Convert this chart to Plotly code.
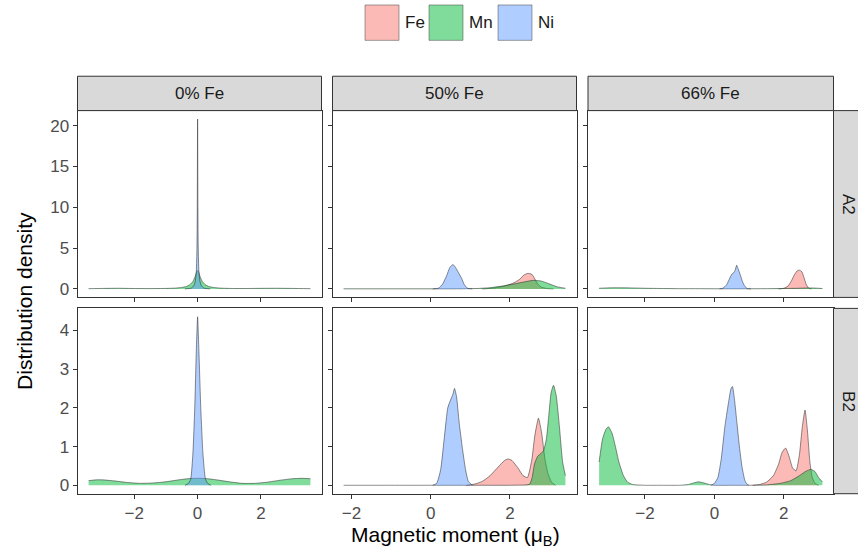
import plotly.graph_objects as go

# ---------------- data ----------------
facet_cols = ["0% Fe", "50% Fe", "66% Fe"]
facet_rows = ["A2", "B2"]
elements = ["Fe", "Mn", "Ni"]

x_ticks = [-2, 0, 2]
y_ticks_a2 = [0, 5, 10, 15, 20]
y_ticks_b2 = [0, 1, 2, 3, 4]

# A2, 0% Fe
x_mn_a2_0 = [-3.44, -3.0, -2.5, -2.0, -1.5, -1.0, -0.7, -0.5, -0.35, -0.25, -0.15, -0.08, -0.03, 0.0,
             0.03, 0.08, 0.15, 0.25, 0.35, 0.5, 0.7, 1.0, 1.5, 2.0, 2.5, 3.0, 3.56]
y_mn_a2_0 = [0.03, 0.06, 0.08, 0.05, 0.04, 0.06, 0.1, 0.18, 0.3, 0.5, 0.9, 1.5, 2.1, 2.3,
             2.1, 1.5, 0.9, 0.5, 0.3, 0.18, 0.1, 0.06, 0.05, 0.07, 0.08, 0.06, 0.03]
x_ni_a2_0 = [-0.4, -0.2, -0.12, -0.07, -0.04, -0.02, -0.01, 0.0, 0.01, 0.02, 0.04, 0.07, 0.12, 0.2, 0.4]
y_ni_a2_0 = [0.0, 0.1, 0.4, 1.0, 2.2, 5.0, 10.0, 20.8, 10.0, 5.0, 2.2, 1.0, 0.4, 0.1, 0.0]

# B2, 0% Fe
x_mn_b2_0 = [-3.44, -3.2, -3.0, -2.6, -2.2, -1.8, -1.4, -1.0, -0.6, -0.3, 0.0, 0.3, 0.6, 1.0, 1.4,
             1.8, 2.2, 2.6, 3.0, 3.3, 3.56]
y_mn_b2_0 = [0.12, 0.14, 0.14, 0.11, 0.07, 0.05, 0.06, 0.09, 0.14, 0.17, 0.18, 0.17, 0.14, 0.09, 0.05,
             0.05, 0.08, 0.13, 0.17, 0.18, 0.17]
x_ni_b2_0 = [-0.4, -0.3, -0.22, -0.15, -0.09, -0.04, 0.0, 0.04, 0.1, 0.17, 0.25, 0.33, 0.42]
y_ni_b2_0 = [0.0, 0.04, 0.15, 0.8, 2.0, 3.5, 4.35, 3.5, 2.0, 0.8, 0.15, 0.04, 0.0]

# A2, 50% Fe
x_fe_a2_50 = [1.3, 1.6, 1.9, 2.1, 2.25, 2.35, 2.45, 2.55, 2.62, 2.7, 2.8, 2.95, 3.1]
y_fe_a2_50 = [0.0, 0.1, 0.4, 0.75, 1.2, 1.7, 1.9, 1.8, 1.3, 0.6, 0.2, 0.04, 0.0]
x_mn_a2_50 = [-2.2, -1.0, 0.0, 0.8, 1.2, 1.5, 1.8, 2.1, 2.4, 2.6, 2.8, 3.0, 3.2, 3.4]
y_mn_a2_50 = [0.01, 0.01, 0.01, 0.02, 0.06, 0.15, 0.35, 0.6, 0.9, 1.05, 0.95, 0.6, 0.25, 0.08]
x_ni_a2_50 = [0.05, 0.2, 0.3, 0.4, 0.48, 0.56, 0.63, 0.7, 0.78, 0.85, 0.93, 1.05]
y_ni_a2_50 = [0.0, 0.1, 0.6, 1.6, 2.6, 3.0, 2.6, 2.0, 1.3, 0.5, 0.08, 0.0]

# B2, 50% Fe
x_fe_b2_50 = [0.9, 1.1, 1.3, 1.5, 1.7, 1.85, 1.95, 2.05, 2.2, 2.33, 2.44, 2.55, 2.63, 2.72, 2.8,
              2.88, 2.96, 3.05, 3.15]
y_fe_b2_50 = [0.0, 0.03, 0.1, 0.25, 0.47, 0.63, 0.68, 0.64, 0.45, 0.25, 0.2, 0.65, 1.3, 1.73, 1.35,
              0.7, 0.3, 0.08, 0.0]
x_mn_b2_50 = [-2.2, -1.0, 0.0, 1.0, 2.0, 2.4, 2.5, 2.56, 2.62, 2.7, 2.78, 2.85, 2.92, 2.98, 3.04,
              3.1, 3.17, 3.25, 3.33, 3.4]
y_mn_b2_50 = [0.0, 0.0, 0.0, 0.0, 0.0, 0.01, 0.03, 0.2, 0.55, 0.75, 0.82, 0.9, 1.2, 1.8, 2.4,
              2.58, 2.3, 1.5, 0.6, 0.25]
x_ni_b2_50 = [0.05, 0.15, 0.25, 0.35, 0.43, 0.5, 0.56, 0.6, 0.65, 0.72, 0.8, 0.88, 0.95, 1.05]
y_ni_b2_50 = [0.0, 0.05, 0.4, 1.3, 2.0, 2.2, 2.35, 2.5, 2.3, 1.6, 0.95, 0.4, 0.1, 0.0]

# A2, 66% Fe
x_fe_a2_66 = [1.85, 2.0, 2.12, 2.22, 2.3, 2.38, 2.45, 2.52, 2.58, 2.65, 2.72, 2.8]
y_fe_a2_66 = [0.0, 0.08, 0.35, 1.0, 1.7, 2.2, 2.3, 2.1, 1.4, 0.5, 0.08, 0.0]
x_mn_a2_66 = [-3.32, -3.1, -2.8, -2.4, -2.0, -1.5, -1.0, -0.5, 0.0, 0.5, 1.0, 1.5, 2.0, 2.4, 2.7,
              2.9, 3.11]
y_mn_a2_66 = [0.08, 0.12, 0.14, 0.12, 0.08, 0.05, 0.03, 0.03, 0.02, 0.02, 0.02, 0.03, 0.05, 0.08, 0.12,
              0.1, 0.05]
x_ni_a2_66 = [0.15, 0.25, 0.35, 0.43, 0.5, 0.56, 0.6, 0.64, 0.68, 0.74, 0.8, 0.87, 0.95, 1.05]
y_ni_a2_66 = [0.0, 0.1, 0.5, 1.2, 1.8, 2.0, 2.3, 2.9, 2.5, 1.8, 1.0, 0.35, 0.05, 0.0]

# B2, 66% Fe
x_fe_b2_66 = [1.1, 1.3, 1.5, 1.7, 1.85, 1.95, 2.05, 2.15, 2.25, 2.35, 2.45, 2.53, 2.61, 2.68, 2.75,
              2.82, 2.9, 3.0]
y_fe_b2_66 = [0.0, 0.02, 0.08, 0.25, 0.55, 0.85, 0.96, 0.75, 0.45, 0.37, 0.8, 1.5, 1.94, 1.4, 0.6,
              0.2, 0.05, 0.0]
x_mn_b2_66 = [-3.32, -3.22, -3.12, -3.05, -2.95, -2.85, -2.75, -2.62, -2.5, -2.35, -2.0, -1.5, -1.0,
              -0.75, -0.6, -0.46, -0.3, -0.15, 0.0, 0.5, 1.0, 1.5, 1.9, 2.2, 2.45, 2.65, 2.78, 2.9,
              3.0, 3.11]
y_mn_b2_66 = [0.6, 1.2, 1.45, 1.51, 1.35, 1.0, 0.6, 0.25, 0.08, 0.02, 0.0, 0.0, 0.0,
              0.02, 0.06, 0.09, 0.06, 0.02, 0.0, 0.0, 0.0, 0.01, 0.05, 0.12, 0.25, 0.37, 0.41, 0.35,
              0.2, 0.09]
x_ni_b2_66 = [-0.1, 0.0, 0.1, 0.2, 0.3, 0.4, 0.48, 0.52, 0.58, 0.65, 0.72, 0.8, 0.88, 0.95, 1.0]
y_ni_b2_66 = [0.0, 0.05, 0.2, 0.7, 1.5, 2.1, 2.5, 2.55, 2.2, 1.6, 1.0, 0.45, 0.12, 0.02, 0.0]

# panel -> list of (element, x, y)
panels = {
    (0, 0): [("Mn", x_mn_a2_0, y_mn_a2_0), ("Ni", x_ni_a2_0, y_ni_a2_0)],
    (0, 1): [("Fe", x_fe_a2_50, y_fe_a2_50), ("Mn", x_mn_a2_50, y_mn_a2_50), ("Ni", x_ni_a2_50, y_ni_a2_50)],
    (0, 2): [("Fe", x_fe_a2_66, y_fe_a2_66), ("Mn", x_mn_a2_66, y_mn_a2_66), ("Ni", x_ni_a2_66, y_ni_a2_66)],
    (1, 0): [("Mn", x_mn_b2_0, y_mn_b2_0), ("Ni", x_ni_b2_0, y_ni_b2_0)],
    (1, 1): [("Fe", x_fe_b2_50, y_fe_b2_50), ("Mn", x_mn_b2_50, y_mn_b2_50), ("Ni", x_ni_b2_50, y_ni_b2_50)],
    (1, 2): [("Fe", x_fe_b2_66, y_fe_b2_66), ("Mn", x_mn_b2_66, y_mn_b2_66), ("Ni", x_ni_b2_66, y_ni_b2_66)],
}

# ---------------- styling / layout ----------------
W, H = 858, 553
FONT = "Liberation Sans, Arial, sans-serif"
fills = {"Fe": "rgba(248,118,109,0.5)", "Mn": "rgba(0,186,56,0.5)", "Ni": "rgba(97,156,255,0.5)"}
BORDER = "#333333"


def fx(p):
    return p / W


def fy(p):
    return 1 - p / H


col_px = [(77.5, 321.5), (332.5, 576.5), (588.0, 833.5)]
row_px = [(111.0, 298.5), (309.5, 495.5)]
strip_top = 76.5
xranges = [[-3.79, 3.91], [-2.48, 3.68], [-3.64, 3.43]]
yranges = [[-1.04, 21.84], [-0.2175, 4.5675]]
yticks = [y_ticks_a2, y_ticks_b2]

fig = go.Figure()
layout = dict(
    width=W, height=H, autosize=False,
    margin=dict(l=0, r=0, t=0, b=0),
    paper_bgcolor="white", plot_bgcolor="white",
    showlegend=False, hovermode=False,
    font=dict(family=FONT, size=17, color="#1A1A1A"),
)

for r in range(2):
    for c in range(3):
        i = r * 3 + c + 1
        xn = "xaxis" if i == 1 else f"xaxis{i}"
        yn = "yaxis" if i == 1 else f"yaxis{i}"
        xa = "x" if i == 1 else f"x{i}"
        ya = "y" if i == 1 else f"y{i}"
        layout[xn] = dict(
            domain=[fx(col_px[c][0]), fx(col_px[c][1])], anchor=ya,
            range=xranges[c], tickvals=x_ticks, showgrid=False, zeroline=False,
            showline=True, mirror=True, linecolor=BORDER, linewidth=1,
            ticks="outside", ticklen=4, tickcolor=BORDER, tickwidth=1,
            showticklabels=(r == 1),
            tickfont=dict(family=FONT, size=17, color="#4D4D4D"),
        )
        layout[yn] = dict(
            domain=[fy(row_px[r][1]), fy(row_px[r][0])], anchor=xa,
            range=yranges[r], tickvals=yticks[r], showgrid=False, zeroline=False,
            showline=True, mirror=True, linecolor=BORDER, linewidth=1,
            ticks="outside", ticklen=4, tickcolor=BORDER, tickwidth=1,
            showticklabels=(c == 0),
            tickfont=dict(family=FONT, size=17, color="#4D4D4D"),
        )
        for el, xs, ys in panels[(r, c)]:
            fig.add_trace(go.Scatter(
                x=xs, y=ys, xaxis=xa, yaxis=ya, mode="lines", fill="tozeroy",
                fillcolor=fills[el], name=el,
                line=dict(color="rgba(40,40,40,0.75)", width=0.7, shape="spline", smoothing=0.5),
            ))

shapes = []
annotations = []
# top strips
for c in range(3):
    shapes.append(dict(type="rect", xref="paper", yref="paper",
                       x0=fx(col_px[c][0]), x1=fx(col_px[c][1]), y0=fy(row_px[0][0]), y1=fy(strip_top),
                       fillcolor="#D9D9D9", line=dict(color=BORDER, width=1)))
    annotations.append(dict(xref="paper", yref="paper", x=fx((col_px[c][0] + col_px[c][1]) / 2),
                            y=fy((strip_top + row_px[0][0]) / 2), text=facet_cols[c], showarrow=False,
                            font=dict(family=FONT, size=17, color="#1A1A1A"),
                            xanchor="center", yanchor="middle"))
# right strips
for r in range(2):
    shapes.append(dict(type="rect", xref="paper", yref="paper",
                       x0=fx(833.5), x1=fx(869), y0=fy(row_px[r][1]), y1=fy(row_px[r][0]),
                       fillcolor="#D9D9D9", line=dict(color=BORDER, width=1)))
    annotations.append(dict(xref="paper", yref="paper", x=fx(849),
                            y=fy((row_px[r][0] + row_px[r][1]) / 2),
                            text=facet_rows[r], showarrow=False, textangle=90,
                            font=dict(family=FONT, size=17, color="#1A1A1A"),
                            xanchor="center", yanchor="middle"))

# axis titles
annotations.append(dict(xref="paper", yref="paper", x=fx(455.5), y=fy(537.5),
                        text="Magnetic moment (μ<sub>B</sub>)", showarrow=False,
                        font=dict(family=FONT, size=21, color="black"),
                        xanchor="center", yanchor="middle"))
annotations.append(dict(xref="paper", yref="paper", x=fx(25), y=fy(302),
                        text="Distribution density", showarrow=False, textangle=-90,
                        font=dict(family=FONT, size=21, color="black"),
                        xanchor="center", yanchor="middle"))

# legend (manual)
legend_boxes = [(365, 399), (429, 463), (498, 532)]
for el, (b0, b1) in zip(elements, legend_boxes):
    shapes.append(dict(type="rect", xref="paper", yref="paper",
                       x0=fx(b0), x1=fx(b1), y0=fy(40.5), y1=fy(5),
                       fillcolor=fills[el], line=dict(color="rgba(60,60,60,0.6)", width=0.8)))
    annotations.append(dict(xref="paper", yref="paper", x=fx(b1 + 4), y=fy(22.5),
                            text=el, showarrow=False,
                            font=dict(family=FONT, size=17, color="#1A1A1A"),
                            xanchor="left", yanchor="middle"))

layout["shapes"] = shapes
layout["annotations"] = annotations
fig.update_layout(**layout)

fig.write_html(
    "out.html",
    config={"displayModeBar": False},
    post_script="document.body.style.margin='0';document.body.style.padding='0';"
                "document.body.style.overflow='hidden';",
)
